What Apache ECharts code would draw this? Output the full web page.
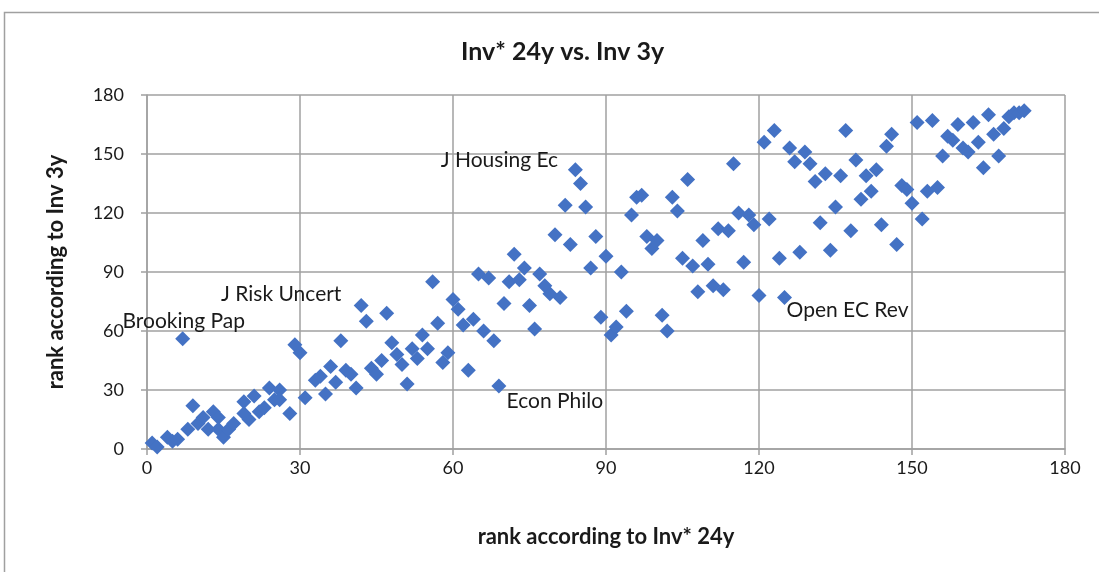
<!DOCTYPE html>
<html>
<head>
<meta charset="utf-8">
<script src="https://cdn.jsdelivr.net/npm/echarts@6/dist/echarts.min.js"></script>
<style>
html,body{margin:0;padding:0;background:#fff;}
#main{width:1099px;height:572px;}
</style>
</head>
<body>
<div id="main"></div>
<script>
// rank according to Inv* 24y (x) and Inv 3y (y)
var rank24 = [1,2,4,5,6,7,8,9,10,11,12,13,14,14,15,16,17,19,19,20,21,22,23,24,25,26,26,28,29,30,
  31,33,34,35,36,37,38,39,40,41,42,43,44,45,46,47,48,49,50,51,52,53,54,55,56,57,58,59,60,
  61,62,63,64,65,66,67,68,69,70,71,72,73,74,75,76,77,78,79,80,81,82,83,84,85,86,87,88,89,90,
  91,92,93,94,95,96,97,98,99,100,101,102,103,104,105,106,107,108,109,110,111,112,113,114,115,116,117,118,119,120,
  121,122,123,124,125,126,127,128,129,130,131,132,133,134,135,136,137,138,139,140,141,142,143,144,145,146,147,148,149,150,
  151,152,153,154,155,156,157,158,159,160,161,162,163,164,165,166,167,168,169,170,171,172];
var rank3 = [3,1,6,4,5,56,10,22,13,16,10,19,16,10,6,10,13,24,18,15,27,19,21,31,25,30,25,18,53,49,
  26,35,37,28,42,34,55,40,38,31,73,65,41,38,45,69,54,48,43,33,51,46,58,51,85,64,44,49,76,
  71,63,40,66,89,60,87,55,32,74,85,99,86,92,73,61,89,83,79,109,77,124,104,142,135,123,92,108,67,98,
  58,62,90,70,119,128,129,108,102,106,68,60,128,121,97,137,93,80,106,94,83,112,81,111,145,120,95,119,114,78,
  156,117,162,97,77,153,146,100,151,145,136,115,140,101,123,139,162,111,147,127,139,131,142,114,154,160,104,134,132,125,
  166,117,131,167,133,149,159,157,165,153,151,166,156,143,170,160,149,163,169,171,171,172];

// named journals shown on the chart
var labelNames = ['Brooking Pap', 'J Risk Uncert', 'J Housing Ec', 'Econ Philo', 'Open EC Rev'];
var labelX = [7, 42, 84, 69, 125];
var labelY = [56, 73, 142, 32, 77];

var labelOffsets = {
  'Brooking Pap': [1, -18],
  'J Risk Uncert': [-80, -11],
  'J Housing Ec': [-76, -9],
  'Econ Philo': [56, 15],
  'Open EC Rev': [63, 13]
};

var font = 'Lato';
var points = [];
for (var i = 0; i < rank24.length; i++) {
  var item = {value: [rank24[i], rank3[i]]};
  for (var k = 0; k < labelNames.length; k++) {
    if (labelX[k] === rank24[i] && labelY[k] === rank3[i]) {
      item.label = {
        show: true,
        formatter: labelNames[k],
        position: 'inside',
        offset: labelOffsets[labelNames[k]],
        color: '#1a1a1a',
        fontSize: 21,
        fontFamily: font
      };
    }
  }
  points.push(item);
}

var chart = echarts.init(document.getElementById('main'), null, {renderer: 'canvas'});

var gridColor = '#a0a0a0';
var axisCommon = {
  type: 'value',
  min: 0,
  max: 180,
  interval: 30,
  nameLocation: 'middle',
  nameTextStyle: {fontSize: 22, fontWeight: 'bold', color: '#1a1a1a', fontFamily: font},
  axisLine: {show: true, lineStyle: {color: gridColor, width: 1.5}},
  axisTick: {show: true, length: 6, lineStyle: {color: gridColor, width: 1.5}},
  splitLine: {show: true, lineStyle: {color: gridColor, width: 1.5}},
  axisLabel: {fontSize: 18, color: '#1a1a1a', fontFamily: font}
};

chart.setOption({
  animation: false,
  backgroundColor: '#fff',
  title: {
    text: 'Inv* 24y vs. Inv 3y',
    left: 456,
    top: 34,
    textStyle: {fontSize: 25, fontWeight: 'bold', color: '#1a1a1a', fontFamily: font}
  },
  graphic: [{
    type: 'rect',
    shape: {x: 4.5, y: 12.5, width: 1200, height: 700},
    style: {fill: null, stroke: '#a0a0a0', lineWidth: 1.5},
    silent: true
  }],
  grid: {left: 147, right: 34, top: 95, bottom: 123},
  xAxis: echarts.util.merge({
    name: 'rank according to Inv* 24y',
    nameGap: 77,
    axisLabel: {margin: 10}
  }, axisCommon),
  yAxis: echarts.util.merge({
    name: 'rank according to Inv 3y',
    nameGap: 80,
    axisLabel: {margin: 23}
  }, axisCommon),
  series: [{
    type: 'scatter',
    symbol: 'diamond',
    symbolSize: 15,
    clip: false,
    itemStyle: {color: '#4472c4', opacity: 1},
    data: points
  }]
});
</script>
</body>
</html>
